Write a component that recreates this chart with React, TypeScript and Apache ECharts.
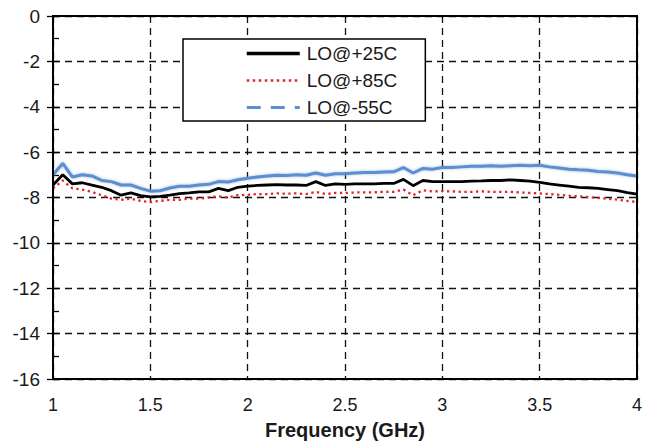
import React, { useEffect, useRef } from "react";
import * as echarts from "echarts";

const freqGHz = [
  1.0, 1.05, 1.1, 1.15, 1.2, 1.25, 1.3, 1.35, 1.4, 1.45, 1.5, 1.55, 1.6, 1.65, 1.7, 1.75,
  1.8, 1.85, 1.9, 1.95, 2.0, 2.05, 2.1, 2.15, 2.2, 2.25, 2.3, 2.35, 2.4, 2.45, 2.5, 2.55,
  2.6, 2.65, 2.7, 2.75, 2.8, 2.85, 2.9, 2.95, 3.0, 3.05, 3.1, 3.15, 3.2, 3.25, 3.3, 3.35,
  3.4, 3.45, 3.5, 3.55, 3.6, 3.65, 3.7, 3.75, 3.8, 3.85, 3.9, 3.95, 4.0,
];

const lo25 = [
  -7.45, -7.0, -7.4, -7.35, -7.45, -7.55, -7.7, -7.9, -7.8, -7.92, -7.97, -7.95, -7.9, -7.83, -7.8, -7.75,
  -7.75, -7.6, -7.7, -7.55, -7.5, -7.47, -7.45, -7.43, -7.45, -7.45, -7.47, -7.3, -7.47, -7.4, -7.42, -7.4,
  -7.4, -7.4, -7.38, -7.38, -7.2, -7.48, -7.25, -7.3, -7.3, -7.3, -7.3, -7.28, -7.27, -7.25, -7.25, -7.22,
  -7.25, -7.28, -7.33, -7.4, -7.45, -7.5, -7.55, -7.57, -7.6, -7.65, -7.7, -7.78, -7.85,
];

const lo85 = [
  -7.6, -7.25, -7.6, -7.65, -7.75, -7.9, -8.05, -8.1, -8.05, -8.15, -8.2, -8.15, -8.1, -8.1, -8.05, -8.05,
  -8.0, -7.95, -8.0, -7.9, -7.88, -7.85, -7.85, -7.82, -7.83, -7.82, -7.85, -7.75, -7.85, -7.8, -7.8, -7.78,
  -7.77, -7.77, -7.75, -7.75, -7.65, -7.9, -7.68, -7.73, -7.72, -7.73, -7.75, -7.75, -7.73, -7.75, -7.75, -7.75,
  -7.78, -7.8, -7.82, -7.85, -7.88, -7.92, -7.95, -7.98, -8.02, -8.05, -8.1, -8.15, -8.2,
];

const lo55 = [
  -7.0, -6.5, -7.1, -7.0, -7.05, -7.25, -7.3, -7.45, -7.45, -7.6, -7.72, -7.7, -7.58, -7.5, -7.5, -7.45,
  -7.42, -7.3, -7.32, -7.22, -7.15, -7.1, -7.05, -7.02, -7.03, -7.0, -7.02, -6.92, -7.02, -6.95, -6.95, -6.92,
  -6.9, -6.9, -6.88, -6.87, -6.68, -6.92, -6.72, -6.75, -6.68, -6.68, -6.65, -6.62, -6.62, -6.6, -6.62, -6.6,
  -6.58, -6.6, -6.58, -6.65, -6.7, -6.75, -6.78, -6.8, -6.85, -6.88, -6.92, -7.0, -7.05,
];

const seriesNames = ["LO@+25C", "LO@+85C", "LO@-55C"];

const pair = (ys: number[]) => freqGHz.map((x, i) => [x, ys[i]]);

export default function App() {
  const ref = useRef<HTMLDivElement>(null);
  useEffect(() => {
    if (!ref.current) return;
    const chart = echarts.init(ref.current, undefined, { renderer: "svg" });
    const font = "Arial, 'Liberation Sans', sans-serif";
    const grid = { type: [7, 5] as any, color: "#111", width: 1.3 };
    const hidden = { opacity: 0 };
    chart.setOption({
      animation: false,
      backgroundColor: "#ffffff",
      textStyle: { fontFamily: font },
      grid: {
        left: 53,
        right: 4,
        top: 16,
        bottom: 63,
        show: true,
        borderColor: "#000",
        borderWidth: 2,
        z: 10,
      },
      legend: {
        orient: "vertical",
        left: 183,
        top: 39,
        padding: [5, 28, 4, 62],
        itemWidth: 53,
        itemHeight: 18,
        itemGap: 8,
        backgroundColor: "#fff",
        borderColor: "#000",
        borderWidth: 1.5,
        textStyle: { fontSize: 19, color: "#1a1a1a", fontFamily: font, padding: [0, 0, 0, 2] },
        data: [
          { name: seriesNames[0], itemStyle: hidden, lineStyle: { width: 3.5, type: "solid" } },
          { name: seriesNames[1], itemStyle: hidden, lineStyle: { width: 2.5, type: [2.5, 3.5] } },
          { name: seriesNames[2], itemStyle: hidden, lineStyle: { width: 3, type: [14, 10] } },
        ],
      },
      xAxis: {
        type: "value",
        min: 1,
        max: 4,
        interval: 0.5,
        name: "Frequency (GHz)",
        nameLocation: "middle",
        nameGap: 41,
        nameTextStyle: { fontSize: 20, fontWeight: "bold", color: "#1a1a1a", fontFamily: font },
        axisLine: { show: true, lineStyle: { color: "#000", width: 2 } },
        axisTick: { show: false },
        axisLabel: { fontSize: 18, color: "#1a1a1a", margin: 17, fontFamily: font },
        splitLine: { show: true, lineStyle: grid },
      },
      yAxis: [
        {
          type: "value",
          min: -16,
          max: 0,
          interval: 2,
          axisLine: { show: true, lineStyle: { color: "#000", width: 2 } },
          axisTick: { show: true, length: 6, lineStyle: { color: "#000", width: 1.3 } },
          axisLabel: { fontSize: 19, color: "#1a1a1a", margin: 13, fontFamily: font },
          splitLine: { show: true, lineStyle: grid },
        },
        {
          type: "value",
          min: -16,
          max: 0,
          interval: 1,
          position: "left",
          offset: 0,
          axisLine: { show: false },
          axisTick: { show: true, inside: true, length: 6, lineStyle: { color: "#000", width: 1.3 } },
          axisLabel: { show: false },
          splitLine: { show: false },
        },
      ],
      series: [
        {
          name: seriesNames[2],
          type: "line",
          data: pair(lo55),
          symbol: "none",
          z: 3,
          lineStyle: {
            color: "#5b8fd0",
            width: 3,
            shadowColor: "rgba(91,143,208,0.55)",
            shadowBlur: 3,
          },
          itemStyle: { color: "#5b8fd0" },
        },
        {
          name: seriesNames[0],
          type: "line",
          data: pair(lo25),
          symbol: "none",
          z: 4,
          lineStyle: { color: "#000", width: 2.8 },
          itemStyle: { color: "#000" },
        },
        {
          name: seriesNames[1],
          type: "line",
          data: pair(lo85),
          symbol: "none",
          z: 5,
          lineStyle: { color: "#e3202c", width: 2.3, type: [2.3, 3.5] },
          itemStyle: { color: "#e3202c" },
        },
      ],
    });
    return () => chart.dispose();
  }, []);
  return (
    <div
      ref={ref}
      style={{ position: "absolute", left: 0, top: 0, width: 645, height: 445, background: "#fff" }}
    />
  );
}
